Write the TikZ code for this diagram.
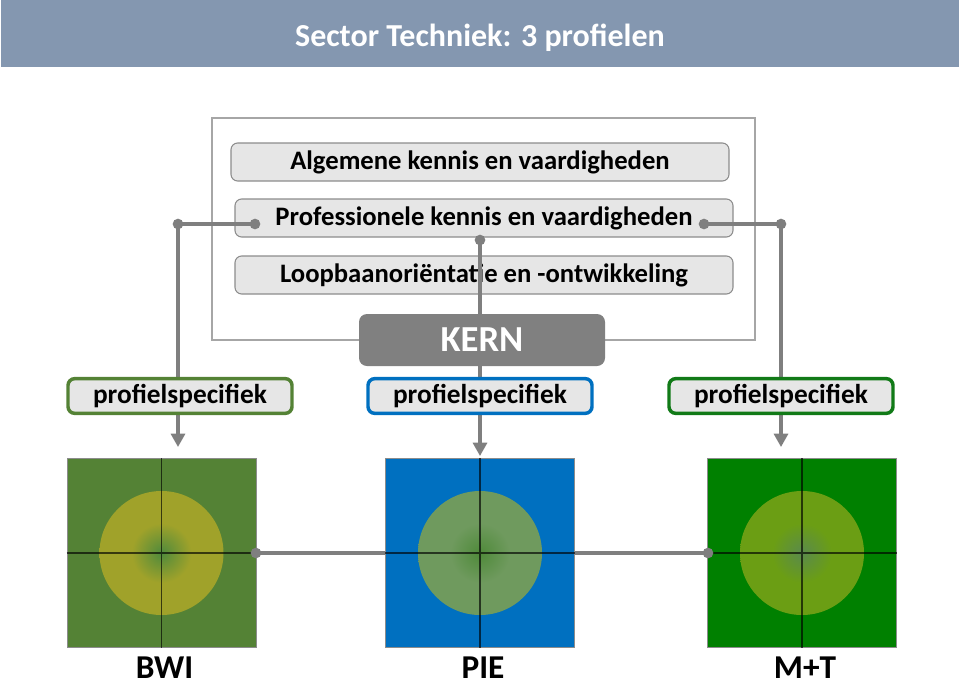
\documentclass[tikz,border=0pt]{standalone}
\usepackage{fontspec}
\setmainfont{Carlito}
\usetikzlibrary{arrows.meta}

\definecolor{titlebar}{HTML}{8497B0}
\definecolor{boxfill}{HTML}{E6E6E6}
\definecolor{boxline}{HTML}{8C8C8C}
\definecolor{connector}{HTML}{7F7F7F}
\definecolor{kerngray}{HTML}{808080}
\definecolor{bwigreen}{HTML}{548235}
\definecolor{pieblue}{HTML}{0070C0}
\definecolor{mtgreen}{HTML}{008000}
\definecolor{mtline}{HTML}{117A17}

\pgfdeclareradialshading[spotin,spotout]{spot}{\pgfpoint{0bp}{0bp}}{color(0bp)=(spotin); color(12bp)=(spotout); color(25bp)=(spotout); color(50bp)=(spotout)}

\begin{document}
\begin{tikzpicture}[x=0.75pt,y=-0.75pt]
        \tikzstyle{every node}=[font=\bfseries]
        \tikzstyle{layer}=[draw=boxline,fill=boxfill,rounded corners=5pt,line width=0.8pt,minimum width=373.5pt,minimum height=28.5pt,font=\bfseries\fontsize{20}{24}\selectfont]
        \tikzstyle{profbox}=[fill=boxfill,rounded corners=5pt,line width=2.6pt,minimum width=168pt,minimum height=26pt,font=\bfseries\fontsize{20.5}{24}\selectfont]
        \tikzstyle{conn}=[draw=connector,line width=2.3pt]
        \tikzstyle{arr}=[conn,-{Triangle[width=10.5pt,length=10pt]}]
        \tikzstyle{dot}=[fill=connector,circle,inner sep=0pt,minimum size=8pt]
        \tikzstyle{profsquare}=[minimum size=141.75pt,inner sep=0pt,draw=black!45,line width=0.6pt]
        \tikzstyle{cross}=[draw=black,opacity=0.65,line width=0.9pt]
        \useasboundingbox (0,0) rectangle (960,689);

        % title bar
        \fill[titlebar] (1,0) rectangle (959,67);
        \node[text=white,font=\bfseries\fontsize{24}{28}\selectfont] (title) at (480,38) {Sector Techniek: 3 profielen};

        % kern frame with the three layers
        \draw[draw=black!35,line width=0.8pt] (212,118) rectangle (755,340);
        \node[layer] (algemeen) at (480,162) {Algemene kennis en vaardigheden};
        \node[layer] (profes) at (484,218) {Professionele kennis en vaardigheden};
        \node[layer] (loopbaan) at (484,275) {Loopbaanoriëntatie en -ontwikkeling};

        % connectors
        \coordinate (inL) at (255,224);
        \coordinate (cornerL) at (178,224);
        \coordinate (inR) at (704,224);
        \coordinate (cornerR) at (781,224);
        \coordinate (topM) at (480,240);
        \coordinate (tipL) at (178,447);
        \coordinate (tipM) at (480,456);
        \coordinate (tipR) at (781,447);
        \draw[conn] (inL) -- (cornerL);
        \draw[arr] (cornerL) -- (tipL);
        \draw[conn] (inR) -- (cornerR);
        \draw[arr] (cornerR) -- (tipR);
        \draw[arr] (topM) -- (tipM);

        \node[fill=kerngray,rounded corners=6pt,minimum width=184.5pt,minimum height=39pt,text=white,font=\bfseries\fontsize{27.5}{32}\selectfont] (kern) at (482,340) {KERN};
        \node[profbox,draw=bwigreen] (profBWI) at (180,396) {profielspecifiek};
        \node[profbox,draw=pieblue] (profPIE) at (480,396) {profielspecifiek};
        \node[profbox,draw=mtline] (profMT) at (781,396) {profielspecifiek};

        % the three profiles
        \coordinate (eastBWI) at (256,553);
        \coordinate (westMT) at (708,553);
        \draw[conn] (eastBWI) -- (westMT);
        \foreach \x/\sqcol/\incol/\outcol/\lab/\nm in {161.5/bwigreen/4F8A3C/A0A22A/BWI/BWI, 480/pieblue/4F8A3A/6F9A5E/PIE/PIE, 802/mtgreen/5A8A4C/6B9E14/M+T/MT}{
            \definecolor{spotin}{HTML}{\incol}
            \definecolor{spotout}{HTML}{\outcol}
            \node[profsquare,fill=\sqcol] (sq\nm) at (\x,553) {};
            \shade[shading=spot] (sq\nm.center) circle[radius=46.5pt];
            \draw[cross] (sq\nm.north) -- (sq\nm.south) (sq\nm.west) -- (sq\nm.east);
            \node[inner sep=0pt,font=\bfseries\fontsize{25}{28}\selectfont] (lab\nm) at (\x+3,668) {\lab};
        }

        % joints
        \foreach \p in {inL,cornerL,inR,cornerR,topM,eastBWI,westMT}
            \node[dot] at (\p) {};
    \end{tikzpicture}
\end{document}
